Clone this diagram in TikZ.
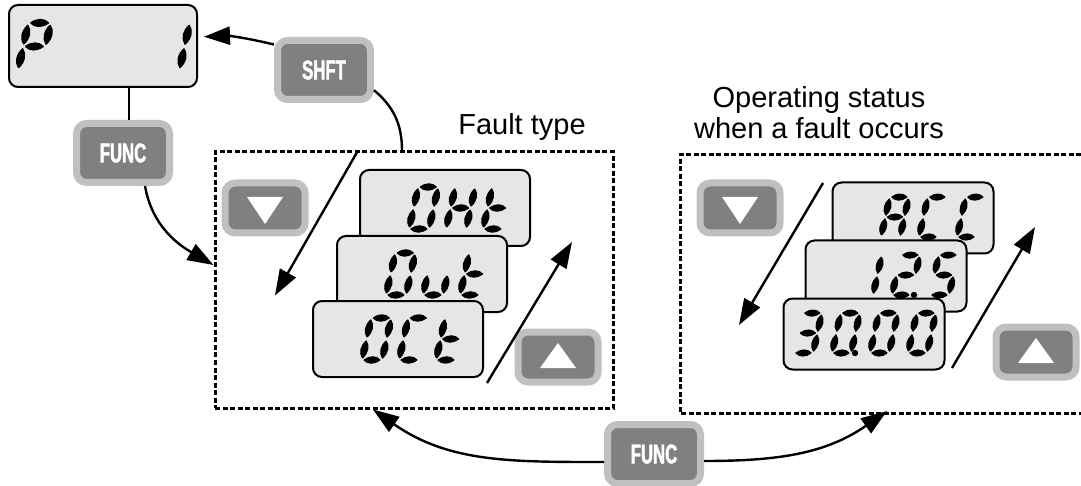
\documentclass[tikz,border=0pt]{standalone}
\usepackage{fontspec}
\setmainfont{Liberation Sans}
\newfontfamily\keyfont{Liberation Sans Bold}[FakeStretch=0.62, FakeBold=1.6]
\usetikzlibrary{arrows.meta, calc}

\definecolor{lcdgray}{HTML}{E6E6E6}
\definecolor{keydark}{HTML}{808080}
\definecolor{keyrim}{HTML}{C0C0C0}

% seven-segment character: [scale]{x}{y}{segments}
\newcommand{\lcdchar}[4][1]{%
  \begin{scope}[shift={(#2,#3)}, scale=#1, xslant=0.22]
    \coordinate (sa1) at (2,42);  \coordinate (sa2) at (18,42);
    \coordinate (sb1) at (20,40); \coordinate (sb2) at (20,23);
    \coordinate (sc1) at (20,19); \coordinate (sc2) at (20,2);
    \coordinate (sd1) at (18,0);  \coordinate (sd2) at (2,0);
    \coordinate (se1) at (0,2);   \coordinate (se2) at (0,19);
    \coordinate (sf1) at (0,23);  \coordinate (sf2) at (0,40);
    \coordinate (sg1) at (2,21);  \coordinate (sg2) at (18,21);
    \foreach \s in {#4}
      \filldraw[line width=1.2pt, line join=round]
        (s\s1) to[bend left=42] (s\s2) to[bend left=42] (s\s1);
  \end{scope}}
\newcommand{\lcdpoint}[2]{\fill (#1,#2) circle (3.2);}

\begin{document}
\begin{tikzpicture}[
    x=1pt, y=1pt,
    >={Triangle[length=26pt, width=18pt]},
    lcd/.style={draw, fill=lcdgray, line width=2pt, rounded corners=9pt, inner sep=0pt},
    lcdl/.style={lcd, minimum width=170pt, minimum height=76pt},
    lcdr/.style={lcd, minimum width=161pt, minimum height=71pt},
    btn/.style={draw=keyrim, fill=keydark, line width=7pt, rounded corners=10pt,
        text=white, font=\keyfont\fontsize{27}{27}\selectfont,
        minimum width=93pt, minimum height=59pt, inner sep=0pt},
    arrowbtn/.style={btn, minimum width=80pt, minimum height=50pt},
    dashbox/.style={draw, dash pattern=on 5pt off 2.5pt, line width=3pt},
    link/.style={line width=2.4pt},
    heading/.style={font=\fontsize{29}{31}\selectfont, align=center, inner sep=0pt}
]
\useasboundingbox (0,0) rectangle (1081,-486);

\node[dashbox, minimum width=398pt, minimum height=256pt] (fault) at (414,-280) {};
\draw[dashbox] (1081,-155) -| (680,-413) -- (1081,-413);
\coordinate (opin) at (887,-411);

\node[heading, anchor=base] (ftype) at (522,-135) {Fault type};
\node[heading, anchor=north] (ostat) at (819,-86) {Operating status\\when a fault occurs};

% keys
\node[btn] (funcA) at (123,-153) {FUNC};
\node[btn] (shft) at (324,-70) {SHFT};
\node[btn] (funcB) at (654,-454) {FUNC};
\node[arrowbtn] (dn1) at (265,-208) {};
\node[arrowbtn] (up1) at (558,-357) {};
\node[arrowbtn] (dn2) at (740,-208) {};
\node[arrowbtn] (up2) at (1036,-352) {};
\fill[white] (dn1.center) ++(-18,11) -- ++(36,0) -- ++(-18,-27) -- cycle;
\fill[white] (dn2.center) ++(-18,11) -- ++(36,0) -- ++(-18,-27) -- cycle;
\fill[white] (up1.center) ++(-18,-11) -- ++(36,0) -- ++(-18,25) -- cycle;
\fill[white] (up2.center) ++(-18,-11) -- ++(36,0) -- ++(-18,25) -- cycle;

% displays
\node[lcd, minimum width=188pt, minimum height=82pt] (p1) at (103,-46) {};
\lcdchar[1.12]{18}{-70}{a,b,e,f,g}
\lcdchar[1.12]{157}{-70}{b,c}

\node[lcdl] (oht) at (445,-208) {};
\lcdchar{409}{-229}{a,b,c,d,e,f}
\lcdchar{446}{-229}{b,c,e,f,g}
\lcdchar{483}{-229}{d,e,f,g}
\node[lcdl] (out) at (422,-274) {};
\lcdchar{386}{-295}{a,b,c,d,e,f}
\lcdchar{423}{-295}{c,d,e}
\lcdchar{460}{-295}{d,e,f,g}
\node[lcdl] (oct) at (398,-339) {};
\lcdchar{362}{-360}{a,b,c,d,e,f}
\lcdchar{399}{-360}{a,d,e,f}
\lcdchar{436}{-360}{d,e,f,g}

\node[lcdr] (acc) at (913,-218) {};
\lcdchar[0.95]{881}{-237}{a,b,c,e,f,g}
\lcdchar[0.95]{919}{-237}{a,d,e,f}
\lcdchar[0.95]{957}{-237}{a,d,e,f}
\node[lcdr] (freq) at (886,-276) {};
\lcdchar[0.95]{854}{-295}{b,c}
\lcdchar[0.95]{892}{-295}{a,b,d,e,g}
\lcdpoint{914}{-295}
\lcdchar[0.95]{930}{-295}{a,c,d,f,g}
\node[lcdr] (speed) at (864,-334) {};
\lcdchar[0.95]{794}{-353}{a,b,c,d,g}
\lcdchar[0.95]{832}{-353}{a,b,c,d,e,f}
\lcdpoint{855}{-353}
\lcdchar[0.95]{870}{-353}{a,b,c,d,e,f}
\lcdchar[0.95]{908}{-353}{a,b,c,d,e,f}

% connectors
\draw[link] ([xshift=26pt]p1.south) -- ([xshift=6pt]funcA.north);
\draw[link, ->] ([xshift=22pt]funcA.south) to[out=-80, in=150] ([yshift=15pt]fault.west);
\draw[link, ->, shorten >=6pt] (shft.153) to[bend right=8] ([yshift=9pt]p1.east);
\draw[link] (shft.-22) to[out=-40, in=90] ([xshift=-12pt]fault.north);
\draw[link, ->] ([yshift=-8pt]funcB.west) to[out=180, in=-35] ([xshift=-41pt]fault.south);
\draw[link, ->] ([yshift=-7pt]funcB.east) to[out=0, in=215] (opin);

% scroll arrows
\draw[link, ->] ([xshift=-56pt]fault.north) -- ++(-83,-145);
\draw[link, ->] (487,-383) -- (572,-242);
\draw[link, ->] (823,-183) -- (739,-325);
\draw[link, ->] (952,-368) -- (1035,-227);
\end{tikzpicture}
\end{document}
